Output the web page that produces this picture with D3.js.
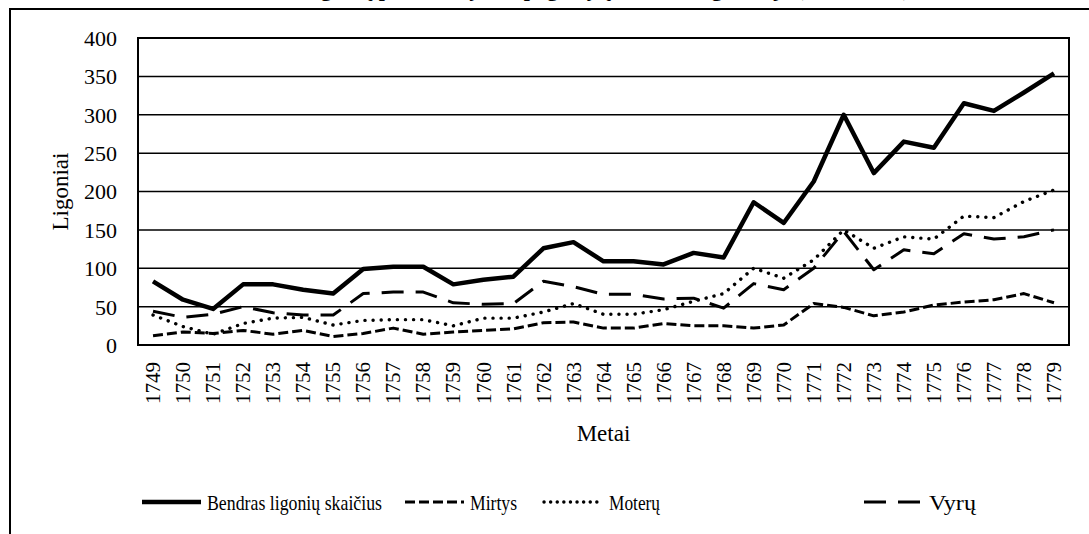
<!DOCTYPE html>
<html>
<head>
<meta charset="utf-8">
<script src="https://cdn.jsdelivr.net/npm/d3@7"></script>
<style>
  body { margin: 0; background: #fff; }
  svg text { font-family: "Liberation Serif", "Times New Roman", serif !important; fill: #000; }
</style>
</head>
<body>
<div id="chart"></div>
<script>
var years = [];
for (var yr = 1749; yr <= 1779; yr++) years.push(String(yr));

var total  = [83, 59, 47, 79, 79, 72, 67, 99, 102, 102, 79, 85, 89, 126, 134, 109, 109, 105, 120, 114, 186, 159, 213, 300, 224, 265, 257, 315, 305, 329, 354];
var deaths = [12, 17, 15, 19, 14, 19, 11, 15, 22, 14, 17, 19, 21, 29, 30, 22, 22, 28, 25, 25, 22, 26, 54, 49, 38, 43, 52, 56, 59, 67, 55];
var women  = [39, 24, 14, 28, 35, 36, 26, 32, 33, 33, 25, 35, 35, 43, 54, 40, 40, 46, 57, 67, 100, 87, 111, 150, 126, 141, 138, 168, 166, 187, 202];
var men    = [44, 36, 40, 50, 42, 39, 39, 67, 69, 69, 55, 53, 54, 83, 76, 66, 66, 60, 61, 48, 80, 72, 100, 148, 98, 124, 119, 145, 138, 141, 150];
var yTicks = [0, 50, 100, 150, 200, 250, 300, 350, 400];
var seriesNames = ['Bendras ligonių skaičius', 'Mirtys', 'Moterų', 'Vyrų'];

var W = 1089, H = 534;
var margins = {top: 38, left: 138, right: 20, bottom: 189};
var serif = '"Liberation Serif", "Times New Roman", serif';

var svg = d3.select('#chart').append('svg')
  .attr('width', W)
  .attr('height', H);

// outer chart frame (runs off the right and bottom edge)
svg.append('rect')
  .attr('x', 10).attr('y', 9)
  .attr('width', W + 20).attr('height', H + 20)
  .attr('fill', 'none')
  .attr('stroke', '#000')
  .attr('stroke-width', 2);

// title, cut off at the top just like the source image
svg.append('text')
  .attr('x', 605).attr('y', -4)
  .attr('text-anchor', 'middle')
  .style('font-family', serif)
  .style('font-size', '22px')
  .style('font-weight', 'bold')
  .text('Ligonių pasiskirstymas pagal lytį Vilniaus ligoninėje (1749–1779)');

var x = d3.scaleBand().domain(years).range([margins.left, W - margins.right]);
var y = d3.scaleLinear().domain([0, 400]).range([H - margins.bottom, margins.top]);

function cx(i) { return x(years[i]) + x.bandwidth() / 2; }

// gridlines
svg.append('g').attr('class', 'grid')
  .selectAll('line')
  .data(yTicks.filter(function (d) { return d > 0 && d < 400; }))
  .enter().append('line')
  .attr('x1', margins.left).attr('x2', W - margins.right)
  .attr('y1', function (d) { return y(d); })
  .attr('y2', function (d) { return y(d); })
  .attr('stroke', '#000')
  .attr('stroke-width', 1.5);

// plot border
svg.append('rect')
  .attr('x', margins.left).attr('y', y(400))
  .attr('width', W - margins.right - margins.left)
  .attr('height', y(0) - y(400))
  .attr('fill', 'none')
  .attr('stroke', '#000')
  .attr('stroke-width', 2);

// y axis
var yAxis = svg.append('g')
  .attr('transform', 'translate(' + margins.left + ',0)')
  .call(d3.axisLeft(y).tickValues(yTicks).tickSize(0).tickPadding(21));
yAxis.select('.domain').remove();
yAxis.selectAll('text')
  .style('font-family', serif)
  .style('font-size', '22px')
  .attr('dy', '0.34em');

// x axis
var xAxis = svg.append('g')
  .attr('transform', 'translate(0,' + y(0) + ')')
  .call(d3.axisBottom(x).tickSize(0));
xAxis.select('.domain').remove();
xAxis.selectAll('text')
  .style('font-family', serif)
  .style('font-size', '21px')
  .attr('transform', 'rotate(-90)')
  .attr('text-anchor', 'end')
  .attr('x', -17)
  .attr('y', 0)
  .attr('dy', '0.34em');

// axis titles
svg.append('text')
  .attr('transform', 'translate(68,' + (y(200)) + ') rotate(-90)')
  .attr('text-anchor', 'middle')
  .style('font-family', serif)
  .style('font-size', '23px')
  .text('Ligoniai');

svg.append('text')
  .attr('x', (margins.left + W - margins.right) / 2)
  .attr('y', 441)
  .attr('text-anchor', 'middle')
  .style('font-family', serif)
  .style('font-size', '23px')
  .text('Metai');

// series lines
var styles = [
  {data: total,  width: 4.5, dash: null},
  {data: deaths, width: 3,   dash: '10,4'},
  {data: women,  width: 3.4, dash: '0.1,8', cap: 'round'},
  {data: men,    width: 3,   dash: '22,12'}
];

var line = d3.line()
  .x(function (d, i) { return cx(i); })
  .y(function (d) { return y(d); });

svg.append('g').attr('class', 'lines')
  .selectAll('path')
  .data(styles)
  .enter().append('path')
  .attr('d', function (s) { return line(s.data); })
  .attr('fill', 'none')
  .attr('stroke', '#000')
  .attr('stroke-width', function (s) { return s.width; })
  .attr('stroke-linejoin', 'round')
  .attr('stroke-linecap', function (s) { return s.cap || 'butt'; })
  .attr('stroke-dasharray', function (s) { return s.dash; });

// legend
var legendX = [142, 405, 544, 864];
var legendY = 502;
var lg = svg.append('g').attr('class', 'legend')
  .selectAll('g')
  .data(styles)
  .enter().append('g')
  .attr('transform', function (d, i) { return 'translate(' + legendX[i] + ',' + legendY + ')'; });

lg.append('line')
  .attr('x1', 0).attr('x2', 59)
  .attr('y1', 0).attr('y2', 0)
  .attr('stroke', '#000')
  .attr('stroke-width', function (s) { return s.width; })
  .attr('stroke-linecap', function (s) { return s.cap || 'butt'; })
  .attr('stroke-dasharray', function (s, i) { return i === 2 ? '0.1,6.5' : s.dash; });

lg.append('text')
  .attr('x', 65)
  .attr('y', 8)
  .style('font-family', serif)
  .style('font-size', '22px')
  .attr('textLength', function (d, i) { return [175, 47, 51, 47][i]; })
  .attr('lengthAdjust', 'spacingAndGlyphs')
  .text(function (d, i) { return seriesNames[i]; });
</script>
</body>
</html>
